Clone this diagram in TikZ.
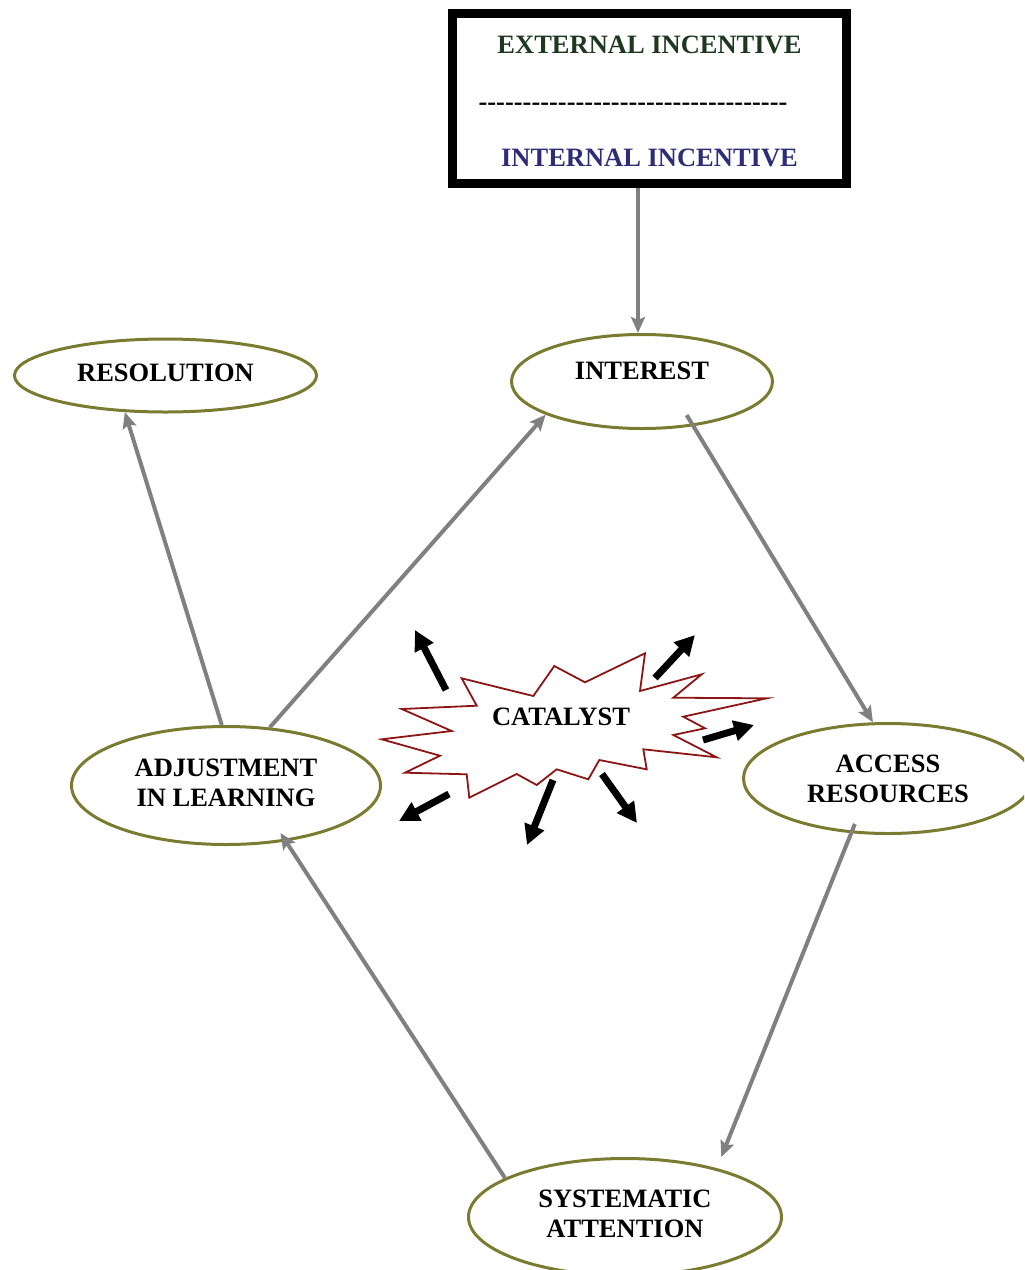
\documentclass[tikz,border=0pt]{standalone}
\usepackage{fontspec}
\setmainfont{Liberation Serif}
\usetikzlibrary{arrows.meta,calc,shapes.geometric}
\definecolor{ellcol}{RGB}{122,122,48}
\definecolor{conngray}{RGB}{128,128,128}
\definecolor{starred}{RGB}{140,22,22}
\definecolor{extgreen}{RGB}{30,56,32}
\definecolor{intblue}{RGB}{44,44,120}
\def\hy{-\kern0pt}
\def\hyv{\hy\hy\hy\hy\hy}
\begin{document}
\begin{tikzpicture}[x=0.5pt,y=-0.5pt,
  lbl/.style={font=\fontsize{13.25}{15}\selectfont\bfseries, align=center},
  ell/.style={ellipse, draw=ellcol, line width=1.5pt, inner sep=0pt, lbl},
  conn/.style={draw=conngray, line width=2pt, -{Stealth[length=8pt,width=7pt,inset=1.5pt]}},
  burst/.style={draw=black, line width=3.5pt, -{Triangle[length=10pt,width=10pt]}},
  starline/.style={draw=starred, line width=0.9pt, fill=white, line join=miter}
]
\useasboundingbox (0,0) rectangle (1024,1270);
\clip (0,0) rectangle (1024,1270);

% top box
\node[draw=black, line width=4.5pt, minimum width=197pt, minimum height=85pt, inner sep=0pt] (box) at (649.5,98.5) {};
\node[lbl, text=extgreen] (ext) at (649.5,45) {EXTERNAL INCENTIVE};
\node[lbl] (dash) at (633,107) {\hyv\hyv\hyv\hyv\hyv\hyv\hyv};
\node[lbl, text=intblue] (intinc) at (649.5,158) {INTERNAL INCENTIVE};

% ellipses
\node[ell, minimum width=151pt, minimum height=36.5pt, text depth=2.5pt] (res) at (165.5,375.5) {RESOLUTION};
\node[ell, minimum width=130.5pt, minimum height=47pt, text depth=11pt] (int) at (642,381.5) {INTEREST};
\node[ell, minimum width=154.5pt, minimum height=59pt, text depth=3pt] (adj) at (226,785.5) {ADJUSTMENT\\IN LEARNING};
\node[ell, minimum width=144.5pt, minimum height=55pt] (acc) at (888,778.5) {ACCESS\\RESOURCES};
\node[ell, minimum width=156.5pt, minimum height=58.5pt, text depth=3pt] (sys) at (625,1217) {SYSTEMATIC\\ATTENTION};

% connectors
\draw[conn] ([xshift=-2pt]box.south -| int.north) -- ([xshift=-2pt]int.north);
\draw[conn] (adj.94) -- (res.222);
\draw[conn] (adj.53) -- (int.199);
\draw[conn, shorten <=-6.5pt] (int.319) -- (acc.105);
\draw[conn, shorten <=-5pt, shorten >=6pt] (acc.236) -- (sys.28);
\draw[conn, shorten >=-5pt] (sys.162) -- (adj.317);

% catalyst starburst
\draw[starline] (381.7,739.3) -- (451.7,731) -- (401.7,709) -- (476.7,705.7) -- (461.7,678.3)
  -- (533.3,696) -- (554.3,666) -- (585,682.3) -- (645,653.3) -- (640,691) -- (701.7,674.3)
  -- (673.3,697.7) -- (766.7,698.3) -- (683.3,716.7) -- (705,728.3) -- (673.3,735)
  -- (716.7,757.3) -- (643.3,749.3) -- (646.7,769.3) -- (599.3,760) -- (588.3,779.3)
  -- (556.7,769.3) -- (536.7,785) -- (516.7,774) -- (469.3,797.7) -- (466.7,774.3)
  -- (405,772.7) -- (440,755.7) -- cycle;
\node[lbl] (cat) at (561,716.7) {CATALYST};

% radiating arrows
\coordinate (a1s) at (446,690);   \coordinate (a1e) at (415,630);
\coordinate (a2s) at (655,678);   \coordinate (a2e) at (695,635);
\coordinate (a3s) at (703,740);   \coordinate (a3e) at (754,725);
\coordinate (a4s) at (449,794);   \coordinate (a4e) at (399,821);
\coordinate (a5s) at (553,780);   \coordinate (a5e) at (527,845);
\coordinate (a6s) at (602,774);   \coordinate (a6e) at (637,823);
\draw[burst] (a1s) -- (a1e);
\draw[burst] (a2s) -- (a2e);
\draw[burst] (a3s) -- (a3e);
\draw[burst] (a4s) -- (a4e);
\draw[burst] (a5s) -- (a5e);
\draw[burst] (a6s) -- (a6e);
\end{tikzpicture}
\end{document}
